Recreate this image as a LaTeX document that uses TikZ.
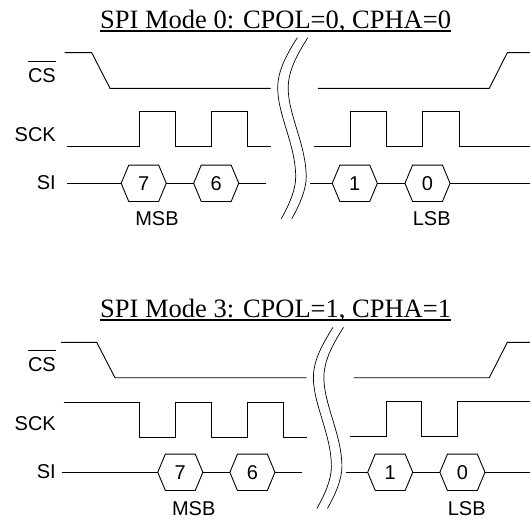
\documentclass[tikz,border=0pt]{standalone}
\usepackage{fontspec}
\setmainfont{Liberation Serif}
\newfontfamily\labelfont{Liberation Sans}
\usetikzlibrary{calc}
\tikzset{
  wire/.style={line width=0.9pt,line join=miter},
  breakline/.style={line width=0.7pt},
  sig/.style={inner sep=0pt,anchor=east,font=\labelfont\fontsize{20}{20}\selectfont},
  bitlabel/.style={inner sep=0pt,font=\labelfont\fontsize{20}{20}\selectfont},
  hexbit/.style={inner sep=0pt,minimum width=44.7pt,minimum height=36pt,font=\labelfont\fontsize{20}{20}\selectfont},
  headline/.style={inner sep=0pt,anchor=base west,font=\fontsize{26.5}{27}\selectfont},
  rulebar/.style={line width=1.8pt}
}
\newcommand{\hexnode}[4]{%
  \node[hexbit] (#1) at (#2,#3) {#4};
  \draw[wire] (#1.west) -- ($(#1.north west)+(7.6pt,0)$) -- ($(#1.north east)+(-7.6pt,0)$) -- (#1.east) -- ($(#1.south east)+(-7.6pt,0)$) -- ($(#1.south west)+(7.6pt,0)$) -- cycle;
}
\newcommand{\breakmark}[2]{%
  \draw[breakline,shift={(#1,#2)}] (297.3,37.7) .. controls (285,57) and (277.7,72) .. (277.7,88) .. controls (277.7,115) and (295.7,145) .. (295.7,177) .. controls (295.7,190) and (289,205) .. (281.3,218.7);
}
\begin{document}
\begin{tikzpicture}[x=1pt,y=-1pt]
\useasboundingbox (0,0) rectangle (530,519);
% ---- Mode 0 ----
\node[headline] (title0) at (100,28.3) {SPI Mode 0: CPOL=0, CPHA=0};
\draw[rulebar] ($(title0.base west)+(0,-2.8pt)$) -- ($(title0.base east)+(0,-2.8pt)$);
\node[sig] (cs0) at (56,76) {CS};
\draw[wire] ($(cs0.north west)+(0,7.5pt)$) -- ($(cs0.north east)+(0,7.5pt)$);
\node[sig] (sck0) at (56,135) {SCK};
\node[sig] (si0) at (56,183) {SI};
\draw[wire] (64.5,52.7) -- (91.7,52.7) -- (110,88.3) -- (270.7,88.3);
\draw[wire] (318,88.3) -- (489.3,88.3) -- (507.3,52.7) -- (530,52.7);
\draw[wire] (67.3,146.7) -- (139.3,146.7) |- (175.7,111.7) |- (211.3,146.7) |- (247.7,111.7) |- (270.7,146.7);
\draw[wire] (314,146.7) -- (350.3,146.7) |- (386.7,111.7) |- (422.7,146.7) |- (459,111.7) |- (530,146.7);
\hexnode{b07}{143.7}{183.3}{7}
\hexnode{b06}{216.2}{183.3}{6}
\hexnode{b01}{354.8}{183.3}{1}
\hexnode{b00}{427.5}{183.3}{0}
\coordinate (a0) at (67.3,183.3);
\coordinate (b0) at (266,183.3);
\coordinate (c0) at (310.3,183.3);
\coordinate (d0) at (530,183.3);
\draw[wire] (a0) -- (b07.west);
\draw[wire] (b07.east) -- (b06.west);
\draw[wire] (b06.east) -- (b0);
\draw[wire] (c0) -- (b01.west);
\draw[wire] (b01.east) -- (b00.west);
\draw[wire] (b00.east) -- (d0);
\node[bitlabel] (msb0) at (157,219) {MSB};
\node[bitlabel] (lsb0) at (431.7,219) {LSB};
\breakmark{0}{0}
\breakmark{10.5}{0}
% ---- Mode 3 ----
\node[headline] (title3) at (100,317.3) {SPI Mode 3: CPOL=1, CPHA=1};
\draw[rulebar] ($(title3.base west)+(0,-2.8pt)$) -- ($(title3.base east)+(0,-2.8pt)$);
\node[sig] (cs3) at (56,365) {CS};
\draw[wire] ($(cs3.north west)+(0,7.5pt)$) -- ($(cs3.north east)+(0,7.5pt)$);
\node[sig] (sck3) at (56,424) {SCK};
\node[sig] (si3) at (56,472) {SI};
\draw[wire] (61,342.3) -- (96.7,342.3) -- (115,377.7) -- (306.7,377.7);
\draw[wire] (353.7,377.7) -- (489.3,377.7) -- (507.3,342.3) -- (530,342.3);
\draw[wire] (63.7,402.3) -- (139.3,402.3) |- (175.7,437.7) |- (211.3,402.3) |- (247.7,437.7) |- (283.5,402.3) |- (306.7,437.7);
\draw[wire] (349.7,436) -- (386,436) |- (421.7,401) |- (457.3,436) |- (530,401);
\hexnode{b37}{180.3}{472.3}{7}
\hexnode{b36}{252.4}{472.3}{6}
\hexnode{b31}{390.2}{472.3}{1}
\hexnode{b30}{462.4}{472.3}{0}
\coordinate (a3) at (62.3,472.3);
\coordinate (b3) at (301.7,472.3);
\coordinate (c3) at (346,472.3);
\coordinate (d3) at (530,472.3);
\draw[wire] (a3) -- (b37.west);
\draw[wire] (b37.east) -- (b36.west);
\draw[wire] (b36.east) -- (b3);
\draw[wire] (c3) -- (b31.west);
\draw[wire] (b31.east) -- (b30.west);
\draw[wire] (b30.east) -- (d3);
\node[bitlabel] (msb3) at (193.7,508.3) {MSB};
\node[bitlabel] (lsb3) at (466.7,508.3) {LSB};
\breakmark{35.7}{289.7}
\breakmark{46.2}{289.7}
\end{tikzpicture}
\end{document}
